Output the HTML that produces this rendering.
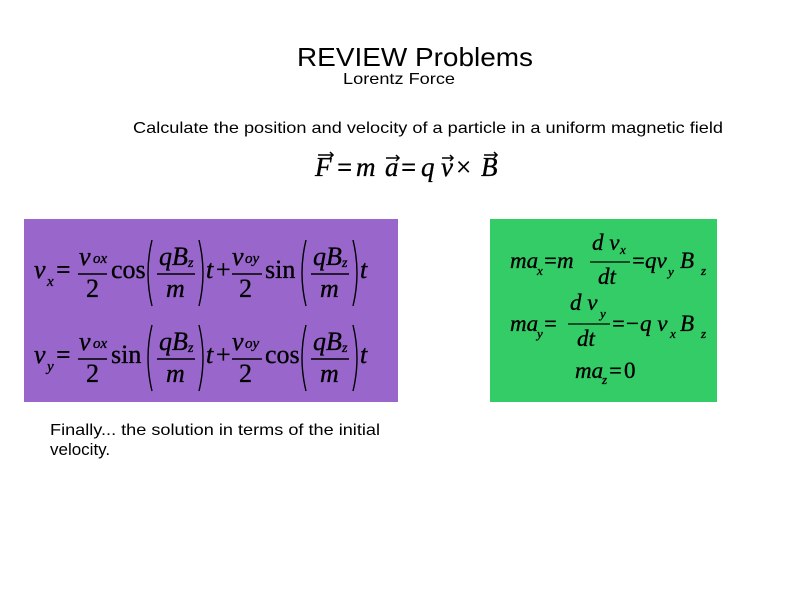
<!DOCTYPE html>
<html><head><meta charset="utf-8"><style>
html,body{margin:0;padding:0;background:#fff;width:800px;height:600px;overflow:hidden}
svg{display:block}
.s{font-family:"Liberation Sans",sans-serif;fill:#000}
.m{font-family:"Liberation Serif",serif;font-style:italic;fill:#000;stroke:#000;stroke-width:0.35}
.r{font-family:"Liberation Serif",serif;fill:#000;stroke:#000;stroke-width:0.35}
.e{font-family:"Liberation Serif",serif;font-weight:bold;fill:#000}
</style></head><body>
<svg width="800" height="600" viewBox="0 0 800 600" xmlns="http://www.w3.org/2000/svg">
<text class="s" x="297" y="66" font-size="26" textLength="236" lengthAdjust="spacingAndGlyphs">REVIEW Problems</text>
<text class="s" x="343" y="84" font-size="16" textLength="112" lengthAdjust="spacingAndGlyphs">Lorentz Force</text>
<text class="s" x="133" y="133" font-size="16" textLength="590" lengthAdjust="spacingAndGlyphs">Calculate the position and velocity of a particle in a uniform magnetic field</text>

<g font-size="27">
<text class="m" x="315" y="176">F</text>
<text class="e" x="337" y="176">=</text>
<text class="m" x="356" y="176">m</text>
<text class="m" x="385" y="176">a</text>
<text class="e" x="401" y="176">=</text>
<text class="m" x="421" y="176">q</text>
<text class="m" x="441" y="176">v</text>
<text class="r" x="456" y="176">×</text>
<text class="m" x="481" y="176">B</text>
</g>
<g stroke="#000" stroke-width="1.5" fill="none">
<path d="M318 155h15M330 152l3 3-3 3"/>
<path d="M386 158h13M396 155l3 3-3 3"/>
<path d="M442 158h11M450 155l3 3-3 3"/>
<path d="M484 155h13M494 152l3 3-3 3"/>
</g>

<rect x="24" y="219" width="374" height="183" fill="#9966cc"/>
<g>
<text class="m" x="34" y="278" font-size="26">v</text>
<text class="m" x="47" y="286" font-size="15">x</text>
<text class="e" x="56" y="278" font-size="26">=</text>
<line x1="78" y1="274" x2="107" y2="274" stroke="#000" stroke-width="1.4"/>
<text class="m" x="79" y="265" font-size="26">v</text>
<text class="m" x="93" y="263" font-size="15">ox</text>
<text class="r" x="86" y="297" font-size="26">2</text>
<text class="r" x="111" y="278" font-size="26">cos</text>
<text class="m" x="206" y="278" font-size="26">t</text>
<text class="r" x="216" y="278" font-size="26">+</text>
<line x1="232" y1="274" x2="262" y2="274" stroke="#000" stroke-width="1.4"/>
<text class="m" x="232" y="265" font-size="26">v</text>
<text class="m" x="245" y="263" font-size="15">oy</text>
<text class="r" x="239" y="297" font-size="26">2</text>
<text class="r" x="265" y="278" font-size="26">sin</text>
<text class="m" x="360" y="278" font-size="26">t</text>
</g>
<g>
<text class="m" x="34" y="363" font-size="26">v</text>
<text class="m" x="47" y="371" font-size="15">y</text>
<text class="e" x="56" y="363" font-size="26">=</text>
<line x1="78" y1="359" x2="107" y2="359" stroke="#000" stroke-width="1.4"/>
<text class="m" x="79" y="350" font-size="26">v</text>
<text class="m" x="93" y="348" font-size="15">ox</text>
<text class="r" x="86" y="382" font-size="26">2</text>
<text class="r" x="111" y="363" font-size="26">sin</text>
<text class="m" x="206" y="363" font-size="26">t</text>
<text class="r" x="216" y="363" font-size="26">+</text>
<line x1="232" y1="359" x2="262" y2="359" stroke="#000" stroke-width="1.4"/>
<text class="m" x="232" y="350" font-size="26">v</text>
<text class="m" x="245" y="348" font-size="15">oy</text>
<text class="r" x="239" y="382" font-size="26">2</text>
<text class="r" x="265" y="363" font-size="26">cos</text>
<text class="m" x="360" y="363" font-size="26">t</text>
</g>
<g fill="none" stroke="#000" stroke-width="1.4">
<path d="M152 240q-8 33 0 66M199 240q8 33 0 66"/>
<path d="M306 240q-8 33 0 66M353 240q8 33 0 66"/>
<path d="M152 325q-8 33 0 66M199 325q8 33 0 66"/>
<path d="M306 325q-8 33 0 66M353 325q8 33 0 66"/>
<line x1="157" y1="274" x2="195" y2="274"/>
<line x1="311" y1="274" x2="349" y2="274"/>
<line x1="157" y1="359" x2="195" y2="359"/>
<line x1="311" y1="359" x2="349" y2="359"/>
</g>
<g font-size="26">
<text class="m" x="159" y="265">qB</text><text class="m" x="188" y="267" font-size="14">z</text>
<text class="m" x="166" y="297">m</text>
<text class="m" x="313" y="265">qB</text><text class="m" x="342" y="267" font-size="14">z</text>
<text class="m" x="320" y="297">m</text>
<text class="m" x="159" y="350">qB</text><text class="m" x="188" y="352" font-size="14">z</text>
<text class="m" x="166" y="382">m</text>
<text class="m" x="313" y="350">qB</text><text class="m" x="342" y="352" font-size="14">z</text>
<text class="m" x="320" y="382">m</text>
</g>

<rect x="490" y="219" width="227" height="183" fill="#33cc66"/>
<g font-size="23">
<text class="m" x="510" y="268">ma</text><text class="m" x="537" y="275" font-size="13">x</text>
<text class="e" x="544" y="268">=</text>
<text class="m" x="557" y="268">m</text>
<line x1="590" y1="262" x2="630" y2="262" stroke="#000" stroke-width="1.3"/>
<text class="m" x="592" y="250">d v</text><text class="m" x="620" y="254" font-size="13">x</text>
<text class="m" x="598" y="284">dt</text>
<text class="e" x="632" y="268">=</text>
<text class="m" x="645" y="268">qv</text><text class="m" x="668" y="276" font-size="13">y</text>
<text class="m" x="680" y="268">B</text><text class="m" x="701" y="275" font-size="13">z</text>

<text class="m" x="510" y="331">ma</text><text class="m" x="537" y="338" font-size="13">y</text>
<text class="e" x="544" y="331">=</text>
<line x1="568" y1="324" x2="610" y2="324" stroke="#000" stroke-width="1.3"/>
<text class="m" x="570" y="310">d v</text><text class="m" x="600" y="318" font-size="13">y</text>
<text class="m" x="577" y="346">dt</text>
<text class="e" x="612" y="331">=</text>
<text class="r" x="626" y="331">−</text>
<text class="m" x="640" y="331">q v</text><text class="m" x="670" y="338" font-size="13">x</text>
<text class="m" x="680" y="331">B</text><text class="m" x="701" y="338" font-size="13">z</text>

<text class="m" x="575" y="378">ma</text><text class="m" x="602" y="384" font-size="13">z</text>
<text class="e" x="609" y="378">=</text>
<text class="r" x="624" y="378">0</text>
</g>

<text class="s" x="50" y="435" font-size="16" textLength="330" lengthAdjust="spacingAndGlyphs">Finally... the solution in terms of the initial</text>
<text class="s" x="50" y="455" font-size="17">velocity.</text>
</svg>
</body></html>
